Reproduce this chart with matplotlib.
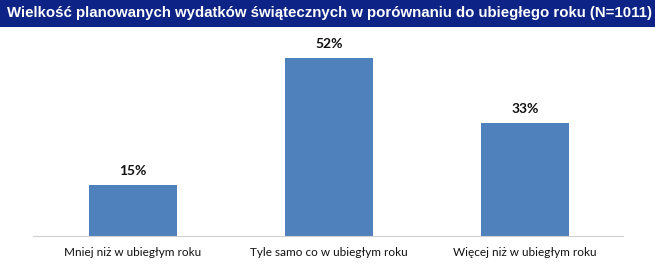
import matplotlib.pyplot as plt
from matplotlib.patches import Rectangle

# Data
categories = ["Mniej niż w ubiegłym roku", "Tyle samo co w ubiegłym roku", "Więcej niż w ubiegłym roku"]
values = [15, 52, 33]
labels = ["15%", "52%", "33%"]
title = "Wielkość planowanych wydatków świątecznych w porównaniu do ubiegłego roku (N=1011)"

fig = plt.figure(figsize=(6.55, 2.64), dpi=100)

# Title bar across the top
fig.patches.append(Rectangle((0, 1 - 27 / 264), 1, 27 / 264, transform=fig.transFigure,
                             facecolor="#0d2386", edgecolor="none", zorder=0))
fig.text(7 / 655, 1 - 13.5 / 264, title, color="white", fontsize=10.8, fontweight="bold",
         family="Liberation Sans", va="center", ha="left")

# Plot area: axis line from x=33 to 623, baseline at y=236
ax = fig.add_axes([33 / 655, 28 / 264, 590 / 655, (236 - 28) / 264])
x = list(range(len(categories)))
ax.bar(x, values, width=0.45, color="#4f81bd")
for xi, v, lab in zip(x, values, labels):
    ax.text(xi, v + 2.3, lab, ha="center", va="bottom", fontsize=10, fontweight="bold",
            family="Lato", color="#111111")

ax.set_xlim(-0.51, 2.5)
ax.set_ylim(0, 52 / (236 - 58) * 208)
ax.set_yticks([])
ax.set_xticks(x)
ax.set_xticklabels(categories, fontsize=8.5, family="Lato", color="#111111")
ax.tick_params(axis="x", length=0, pad=8)
for side in ["top", "right", "left"]:
    ax.spines[side].set_visible(False)
ax.spines["bottom"].set_color("#d0d0d0")

fig.savefig("out.png", dpi=100)
